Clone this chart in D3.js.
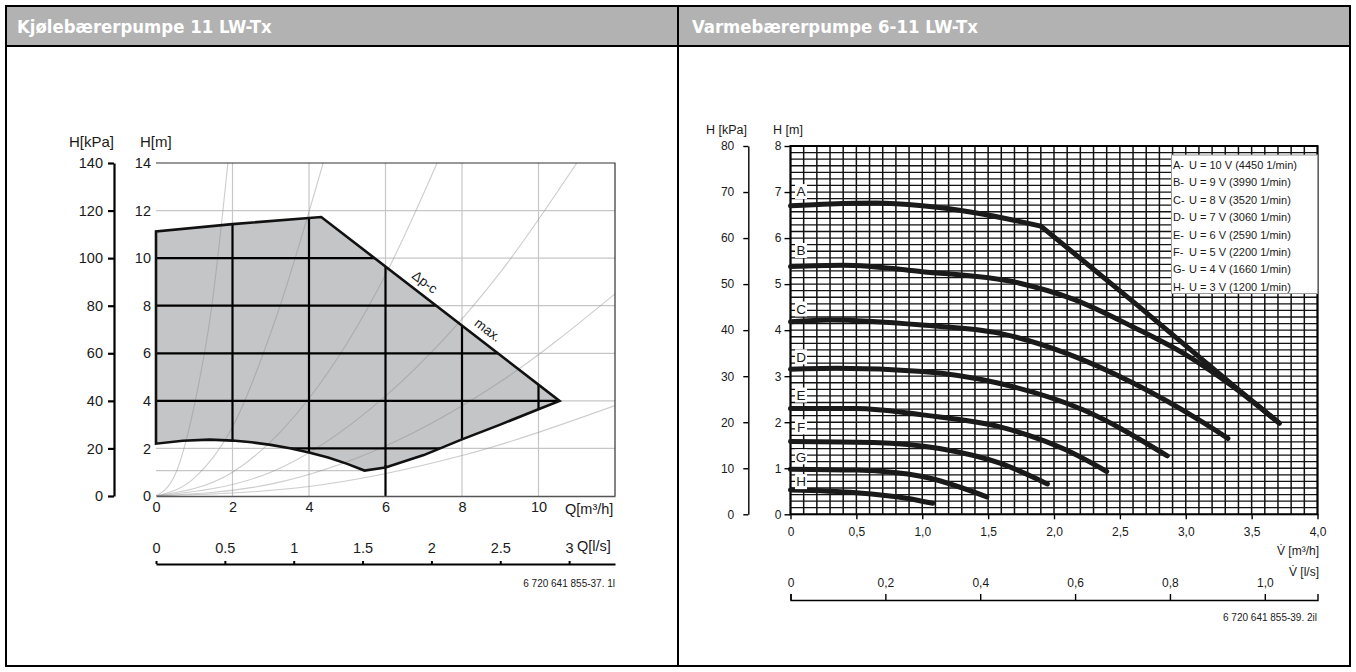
<!DOCTYPE html>
<html>
<head>
<meta charset="utf-8">
<script src="https://cdn.jsdelivr.net/npm/d3@7"></script>
<style>
  body { margin: 0; background: #fff; }
  svg text { font-family: "Liberation Sans", Arial, sans-serif; fill: #1a1a1a; }
</style>
</head>
<body>
<script>
// ---------- data ----------
const panelTitles = ["Kjølebærerpumpe 11 LW-Tx", "Varmebærerpumpe 6-11 LW-Tx"];

// left chart: brine pump
const qTicks = [0, 2, 4, 6, 8, 10];               // Q [m³/h]
const qLsTicks = [0, 0.5, 1, 1.5, 2, 2.5, 3];      // Q [l/s]
const hTicksM = [0, 2, 4, 6, 8, 10, 12, 14];       // H [m]
const hTicksKpa = [0, 20, 40, 60, 80, 100, 120, 140];

// outline of the working area (Q m³/h, H m), clockwise from bottom-left
const envelope = [
  [0, 2.2], [0, 11.12], [2, 11.43], [4.32, 11.73],               // top
  [10.55, 4.0],                                                  // Δp-c / max. line
  [10.0, 3.65], [9.0, 3.0], [8.0, 2.38], [7.0, 1.72], [6.0, 1.2],
  [5.45, 1.07],                                                  // lowest point
  [5.0, 1.35], [4.5, 1.62], [4.0, 1.83], [3.5, 2.01], [3.0, 2.15], [2.5, 2.26], [2.0, 2.33],
  [1.4, 2.37], [0.7, 2.32]
];

// light system curves
const systemCurves = [
  [[0, 0], [0.5, 0.9], [1.0, 3.8], [1.46, 8], [1.88, 14]],
  [[0, 0], [1, 0.75], [2, 2.9], [3.16, 7.6], [4.37, 14]],
  [[0, 0], [2, 1.0], [4, 4.1], [6, 9.3], [7.35, 14]],
  [[0, 0], [3, 1.0], [6, 4.2], [9, 9.4], [11, 14]],
  [[0, 0], [3, 0.5], [6, 2.1], [9, 4.8], [12, 8.5]],
  [[0, 0], [4, 0.4], [8, 1.7], [12, 3.8]]
];

// right chart: heating pump
const vTicks = [0, 0.5, 1, 1.5, 2, 2.5, 3, 3.5, 4];   // V [m³/h]
const vLsTicks = [0, 0.2, 0.4, 0.6, 0.8, 1.0];         // V [l/s]
const hTicks2 = [0, 1, 2, 3, 4, 5, 6, 7, 8];
const kpaTicks2 = [0, 10, 20, 30, 40, 50, 60, 70, 80];

const speedLetters = ["A", "B", "C", "D", "E", "F", "G", "H"];
const speedTexts = [
  "U = 10 V (4450 1/min)", "U = 9 V (3990 1/min)", "U = 8 V (3520 1/min)",
  "U = 7 V (3060 1/min)", "U = 6 V (2590 1/min)", "U = 5 V (2200 1/min)",
  "U = 4 V (1660 1/min)", "U = 3 V (1200 1/min)"
];
const letterAt = [7.01, 5.73, 4.46, 3.42, 2.59, 1.90, 1.25, 0.71]; // H [m] of the letter tags

const curveA = [[0, 6.70], [0.3, 6.74], [0.65, 6.76], [1.0, 6.70], [1.4, 6.55], [1.9, 6.26]];
const maxLine = [[1.9, 6.26], [2.6, 4.62], [3.36, 2.80], [3.71, 1.98]];
const curveB = [[0, 5.38], [0.4, 5.41], [1.0, 5.27], [1.74, 5.02], [2.14, 4.68], [2.6, 4.07], [2.98, 3.50], [3.36, 2.77], [3.71, 1.98]];
const curveC = [[0, 4.18], [0.3, 4.22], [1.0, 4.11], [1.59, 3.93], [2.09, 3.50], [2.6, 2.85], [3.1, 2.05], [3.32, 1.65]];
const curveD = [[0, 3.15], [0.35, 3.17], [1.0, 3.10], [1.59, 2.84], [2.22, 2.27], [2.86, 1.27]];
const curveE = [[0, 2.30], [0.5, 2.30], [1.0, 2.16], [1.59, 1.90], [2.09, 1.40], [2.40, 0.93]];
const curveF = [[0, 1.58], [0.63, 1.56], [1.13, 1.43], [1.59, 1.11], [1.95, 0.66]];
const curveG = [[0, 0.98], [0.5, 0.96], [1.0, 0.82], [1.49, 0.38]];
const curveH = [[0, 0.53], [0.5, 0.47], [0.88, 0.35], [1.08, 0.24]];
const pumpCurves = [curveA, maxLine, curveB, curveC, curveD, curveE, curveF, curveG, curveH];

// ---------- page frame ----------
const W = 1356, H = 672;
const svg = d3.select("body").append("svg").attr("width", W).attr("height", H);

svg.append("rect").attr("x", 6).attr("y", 6).attr("width", 1344).attr("height", 40).attr("fill", "#b2b2b2");
svg.append("rect").attr("x", 6).attr("y", 6).attr("width", 1344).attr("height", 660)
  .attr("fill", "none").attr("stroke", "#000").attr("stroke-width", 2);
svg.append("line").attr("x1", 6).attr("x2", 1350).attr("y1", 46).attr("y2", 46).attr("stroke", "#000").attr("stroke-width", 2);
svg.append("line").attr("x1", 678).attr("x2", 678).attr("y1", 6).attr("y2", 666).attr("stroke", "#000").attr("stroke-width", 2);

svg.selectAll("text.title").data(panelTitles).enter().append("text")
  .attr("class", "title")
  .attr("x", (d, i) => i === 0 ? 17 : 692)
  .attr("y", 33)
  .style("font-family", "'DejaVu Sans Condensed', 'DejaVu Sans', sans-serif")
  .style("font-weight", "bold")
  .style("font-size", "18.4px")
  .style("fill", "#fff")
  .text(d => d);

function styleAxis(g, size) {
  g.attr("font-family", null).attr("font-size", null);
  g.selectAll("text").style("font-size", size + "px");
}

// ---------- left chart ----------
const xQ = d3.scaleLinear().domain([0, 12]).range([156, 615]);
const yH = d3.scaleLinear().domain([0, 14]).range([496, 163]);
const yKpa = d3.scaleLinear().domain([0, 140]).range([496, 163]);
const xLs = d3.scaleLinear().domain([0, 12 / 3.6]).range([156, 615]);

const left = svg.append("g");
left.append("clipPath").attr("id", "plotL").append("rect")
  .attr("x", xQ(0)).attr("y", yH(14)).attr("width", xQ(12) - xQ(0)).attr("height", yH(0) - yH(14));

// light grid
left.append("g").selectAll("line").data(qTicks.slice(1)).enter().append("line")
  .attr("x1", d => xQ(d)).attr("x2", d => xQ(d)).attr("y1", yH(0)).attr("y2", yH(14))
  .attr("stroke", "#c6c6c6").attr("stroke-width", 1.2);
left.append("g").selectAll("line").data(hTicksM.slice(1, -1)).enter().append("line")
  .attr("x1", xQ(0)).attr("x2", xQ(12)).attr("y1", d => yH(d)).attr("y2", d => yH(d))
  .attr("stroke", "#c6c6c6").attr("stroke-width", 1.2);

// level of the lowest envelope point
const lowPt = envelope.reduce((a, b) => (b[1] < a[1] ? b : a));
left.append("line")
  .attr("x1", xQ(0)).attr("x2", xQ(lowPt[0])).attr("y1", yH(lowPt[1])).attr("y2", yH(lowPt[1]))
  .attr("stroke", "#c6c6c6").attr("stroke-width", 1.2);

// shaded area
const envPath = d3.line().x(d => xQ(d[0])).y(d => yH(d[1]))(envelope) + "Z";
left.append("clipPath").attr("id", "envClip").append("path").attr("d", envPath);
left.append("path").attr("d", envPath).attr("fill", "#c4c5c7");

// system curves (visible through the shaded area)
const sysLine = d3.line().x(d => xQ(d[0])).y(d => yH(d[1])).curve(d3.curveMonotoneX);
left.append("g").attr("clip-path", "url(#plotL)").selectAll("path").data(systemCurves).enter().append("path")
  .attr("d", sysLine).attr("fill", "none").attr("stroke", "#8f8f8f").attr("stroke-opacity", 0.45)
  .attr("stroke-width", 1.1);

// black grid inside the area
const inner = left.append("g").attr("clip-path", "url(#envClip)");
inner.selectAll("line.v").data(qTicks.slice(1)).enter().append("line")
  .attr("x1", d => xQ(d)).attr("x2", d => xQ(d)).attr("y1", yH(0)).attr("y2", yH(14))
  .attr("stroke", "#000").attr("stroke-width", 2.2);
inner.selectAll("line.h").data(hTicksM.slice(1, -1)).enter().append("line")
  .attr("x1", xQ(0)).attr("x2", xQ(12)).attr("y1", d => yH(d)).attr("y2", d => yH(d))
  .attr("stroke", "#000").attr("stroke-width", 2.2);
// Q = 6 reference drop to the axis
left.append("line")
  .attr("x1", xQ(6)).attr("x2", xQ(6)).attr("y1", yH(0)).attr("y2", yH(1.3))
  .attr("stroke", "#000").attr("stroke-width", 2.2);

left.append("path").attr("d", envPath).attr("fill", "none")
  .attr("stroke", "#111").attr("stroke-width", 2.6).attr("stroke-linejoin", "miter");

// frame
left.append("path")
  .attr("d", `M${xQ(0)},${yH(14)}H${xQ(12)}V${yH(0)}`)
  .attr("fill", "none").attr("stroke", "#333").attr("stroke-width", 1.2);

// labels on the max line
const diagAngle = Math.atan2(yH(4.0) - yH(11.73), xQ(10.55) - xQ(4.32)) * 180 / Math.PI;
[["Δp-c", 7.03, 9.0], ["max.", 8.68, 6.98]].forEach(([t, q, h]) => {
  left.append("text")
    .attr("transform", `translate(${xQ(q)},${yH(h)}) rotate(${diagAngle})`)
    .attr("text-anchor", "middle").attr("dy", "0.35em").style("font-size", "13.5px").text(t);
});

// kPa axis
const gKpa = left.append("g").attr("transform", "translate(114,0)")
  .call(d3.axisLeft(yKpa).tickValues(hTicksKpa).tickSize(6).tickSizeOuter(0).tickPadding(5));
styleAxis(gKpa, 14.5);
gKpa.selectAll("path, line").attr("stroke", "#000").attr("stroke-width", 2.2);

// metre labels
const gM = left.append("g").attr("transform", `translate(${xQ(0)},0)`)
  .call(d3.axisLeft(yH).tickValues(hTicksM).tickSize(0).tickPadding(5));
styleAxis(gM, 14.5);
gM.select(".domain").remove();

// Q axis
const gQ = left.append("g").attr("transform", `translate(0,${yH(0)})`)
  .call(d3.axisBottom(xQ).tickValues(qTicks).tickSize(0).tickSizeOuter(0).tickPadding(6));
styleAxis(gQ, 14.5);
gQ.select(".domain").attr("stroke", "#555").attr("stroke-width", 1.6);

// Q l/s axis
const gLs = left.append("g").attr("transform", "translate(0,564)")
  .call(d3.axisTop(xLs).tickValues(qLsTicks).tickSize(3).tickSizeOuter(0).tickPadding(8)
    .tickFormat(d => String(d)));
styleAxis(gLs, 14.5);
gLs.selectAll("path, line").attr("stroke", "#000").attr("stroke-width", 2);

left.append("text").attr("x", 69).attr("y", 147).style("font-size", "15px").text("H[kPa]");
left.append("text").attr("x", 140).attr("y", 147).style("font-size", "15px").text("H[m]");
left.append("text").attr("x", 565).attr("y", 514).style("font-size", "14.5px").text("Q[m³/h]");
left.append("text").attr("x", 577).attr("y", 551).style("font-size", "14.5px").text("Q[l/s]");
left.append("text").attr("x", 615).attr("y", 587).attr("text-anchor", "end")
  .style("font-size", "10px").text("6 720 641 855-37. 1l");

// ---------- right chart ----------
const xV = d3.scaleLinear().domain([0, 4]).range([790.5, 1317.5]);
const yM = d3.scaleLinear().domain([0, 8]).range([514.3, 146]);
const yKpa2 = d3.scaleLinear().domain([0, 80]).range([514.3, 146]);
const xVls = d3.scaleLinear().domain([0, 4 / 3.6]).range([790.5, 1317.5]);

const right = svg.append("g");
const comma = d => (d === 0 ? "0" : d3.format(".1f")(d).replace(".", ","));

// dense grid: 0.1 m³/h columns, 1/7 m rows
const rows = d3.range(0, 57).map(i => i / 7);
right.append("g").selectAll("line").data(xV.ticks(40)).enter().append("line")
  .attr("x1", d => xV(d)).attr("x2", d => xV(d)).attr("y1", yM(0)).attr("y2", yM(8))
  .attr("stroke", "#111").attr("stroke-width", 1.5);
right.append("g").selectAll("line").data(rows).enter().append("line")
  .attr("x1", xV(0)).attr("x2", xV(4)).attr("y1", d => yM(d)).attr("y2", d => yM(d))
  .attr("stroke", "#111").attr("stroke-width", 1.3);
right.append("rect").attr("x", xV(0)).attr("y", yM(8)).attr("width", xV(4) - xV(0)).attr("height", yM(0) - yM(8))
  .attr("fill", "none").attr("stroke", "#000").attr("stroke-width", 2);

// pump curves
const pumpLine = d3.line().x(d => xV(d[0])).y(d => yM(d[1])).curve(d3.curveMonotoneX);
right.append("g").selectAll("path").data(pumpCurves).enter().append("path")
  .attr("d", d => (d === maxLine ? d3.line().x(p => xV(p[0])).y(p => yM(p[1]))(d) : pumpLine(d)))
  .attr("fill", "none").attr("stroke", "#1a1a1a").attr("stroke-width", 5)
  .attr("stroke-linecap", "round").attr("stroke-linejoin", "round");

// letter tags
const tags = right.append("g").selectAll("g").data(speedLetters).enter().append("g")
  .attr("transform", (d, i) => `translate(${xV(0.08)},${yM(letterAt[i])})`);
tags.append("rect").attr("x", -6).attr("y", -7.5).attr("width", 12).attr("height", 15).attr("fill", "#fff");
tags.append("text").attr("text-anchor", "middle").attr("dy", "0.36em").style("font-size", "13.5px").text(d => d);

// legend
const lg = right.append("g");
lg.append("rect").attr("x", 1171.5).attr("y", 155).attr("width", 146).attr("height", 138.5)
  .attr("fill", "#fff").attr("stroke", "#999").attr("stroke-width", 1);
lg.selectAll("text.k").data(speedLetters).enter().append("text")
  .attr("x", 1173).attr("y", (d, i) => 169 + i * 17.4).style("font-size", "11px").text(d => d + "-");
lg.selectAll("text.v").data(speedTexts).enter().append("text")
  .attr("x", 1189).attr("y", (d, i) => 169 + i * 17.4).style("font-size", "11px").text(d => d);

// kPa axis
const gK2 = right.append("g").attr("transform", "translate(748.3,0)")
  .call(d3.axisLeft(yKpa2).tickValues(kpaTicks2).tickSize(5).tickSizeOuter(0).tickPadding(9));
styleAxis(gK2, 12);
gK2.selectAll("path, line").attr("stroke", "#000").attr("stroke-width", 1.4);

// metre axis
const gM2 = right.append("g").attr("transform", `translate(${xV(0)},0)`)
  .call(d3.axisLeft(yM).tickValues(hTicks2).tickSize(6).tickSizeOuter(0).tickPadding(3));
styleAxis(gM2, 12);
gM2.select(".domain").remove();
gM2.selectAll("line").attr("stroke", "#000").attr("stroke-width", 1.4);

// V axis
const gV = right.append("g").attr("transform", `translate(0,${yM(0)})`)
  .call(d3.axisBottom(xV).tickValues(vTicks).tickSize(5).tickSizeOuter(0).tickPadding(8).tickFormat(comma));
styleAxis(gV, 12);
gV.select(".domain").remove();
gV.selectAll("line").attr("stroke", "#000").attr("stroke-width", 1.4);

// V l/s axis
const gVls = right.append("g").attr("transform", "translate(0,600)")
  .call(d3.axisTop(xVls).tickValues(vLsTicks).tickSize(6).tickSizeOuter(6).tickPadding(7).tickFormat(comma));
styleAxis(gVls, 12);
gVls.selectAll("path, line").attr("stroke", "#000").attr("stroke-width", 1.4);

right.append("text").attr("x", 706).attr("y", 134).style("font-size", "12.5px").text("H [kPa]");
right.append("text").attr("x", 773).attr("y", 134).style("font-size", "12.5px").text("H [m]");
right.append("text").attr("x", 1319).attr("y", 555).attr("text-anchor", "end").style("font-size", "12px").text("V\u0307 [m³/h]");
right.append("text").attr("x", 1319).attr("y", 576).attr("text-anchor", "end").style("font-size", "12px").text("V\u0307 [l/s]");
right.append("text").attr("x", 1317).attr("y", 621).attr("text-anchor", "end")
  .style("font-size", "10px").text("6 720 641 855-39. 2il");
</script>
</body>
</html>
